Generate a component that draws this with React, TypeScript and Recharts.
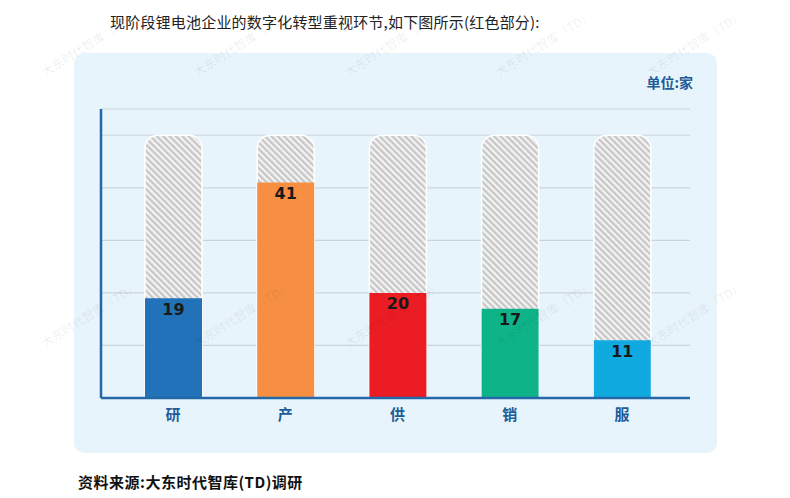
import React from 'react';
import { BarChart, Bar, XAxis, YAxis, CartesianGrid, LabelList, Cell } from 'recharts';

const stages = ['研', '产', '供', '销', '服'];
const companies = [19, 41, 20, 17, 11];
const totals = [50, 50, 50, 50, 50];
const stageColors = ['#2172b9', '#f68f42', '#ec1c24', '#0eb388', '#10aae1'];
const yTicks = [0, 10, 20, 30, 40, 50];

const watermarkX = [45, 197, 348, 499, 650];
const watermarkY = [77, 348];

const chartData = stages.map((s, i) => ({ stage: s, value: companies[i], total: totals[i] }));

const cjk = '"Noto Sans CJK SC", "Noto Sans", sans-serif';

const App: React.FC = () => {
  return (
    <div style={{ position: 'absolute', left: 0, top: 0, width: 790, height: 498, background: '#fff', fontFamily: cjk }}>
      <div style={{ position: 'absolute', left: 110, top: 12, fontSize: 15, color: '#222', whiteSpace: 'nowrap', lineHeight: '20px', letterSpacing: 0.2 }}>
        现阶段锂电池企业的数字化转型重视环节,如下图所示(红色部分):
      </div>
      <div style={{ position: 'absolute', left: 74, top: 53, width: 643, height: 400, borderRadius: 10, background: '#e7f4fb' }} />
      <div style={{ position: 'absolute', right: 790 - 693, top: 73, fontSize: 14, fontWeight: 700, color: '#1d5c99', lineHeight: '18px' }}>
        单位:家
      </div>
      <div style={{ position: 'absolute', left: 0, top: 0 }}>
        <BarChart
          width={790}
          height={498}
          data={chartData}
          margin={{ top: 109, right: 100, bottom: 70, left: 100 }}
          barSize={57}
          barGap={-57}
        >
          <defs>
            <pattern id="hatch" width="4.5" height="4.5" patternUnits="userSpaceOnUse" patternTransform="rotate(-45)">
              <rect width="4.5" height="4.5" fill="#f3f3f3" />
              <line x1="1.1" y1="0" x2="1.1" y2="4.5" stroke="#c6c6c6" strokeWidth="2.2" />
            </pattern>
          </defs>
          <CartesianGrid vertical={false} stroke="#cbd4dc" strokeWidth={1.2} />
          <XAxis
            dataKey="stage"
            height={30}
            padding={{ left: 16, right: 12 }}
            tickLine={false}
            tickMargin={5}
            axisLine={{ stroke: '#2468a8', strokeWidth: 2.5 }}
            tick={{ fontSize: 15, fontWeight: 700, fill: '#1d5c99', fontFamily: cjk }}
          />
          <YAxis
            width={1}
            domain={[0, 55]}
            ticks={yTicks}
            tick={() => <g />}
            tickLine={false}
            axisLine={{ stroke: '#2468a8', strokeWidth: 2.5 }}
          />
          <Bar dataKey="total" fill="url(#hatch)" stroke="#ffffff" strokeWidth={1.5} radius={[13, 13, 0, 0]} isAnimationActive={false} />
          <Bar dataKey="value" isAnimationActive={false}>
            {chartData.map((d, i) => (
              <Cell key={d.stage} fill={stageColors[i]} />
            ))}
            <LabelList
              dataKey="value"
              position="insideTop"
              offset={5}
              style={{ fontSize: 16, fontWeight: 700, fill: '#1a1a1a', fontFamily: '"DejaVu Sans", sans-serif' }}
            />
          </Bar>
        </BarChart>
      </div>
      <div style={{ position: 'absolute', left: 78, top: 471, fontSize: 15, fontWeight: 700, color: '#111', whiteSpace: 'nowrap', lineHeight: '22px', letterSpacing: 0.5 }}>
        资料来源:大东时代智库(TD)调研
      </div>
      <svg width={790} height={498} style={{ position: 'absolute', left: 0, top: 0, pointerEvents: 'none' }}>
        {watermarkY.map((y) =>
          watermarkX.map((x) => (
            <text
              key={`${x}-${y}`}
              x={x}
              y={y}
              transform={`rotate(-32 ${x} ${y})`}
              fontSize={12}
              fill="#000"
              fillOpacity={0.08}
              fontFamily={cjk}
            >
              大东时代智库（TD）
            </text>
          ))
        )}
      </svg>
    </div>
  );
};

export default App;
